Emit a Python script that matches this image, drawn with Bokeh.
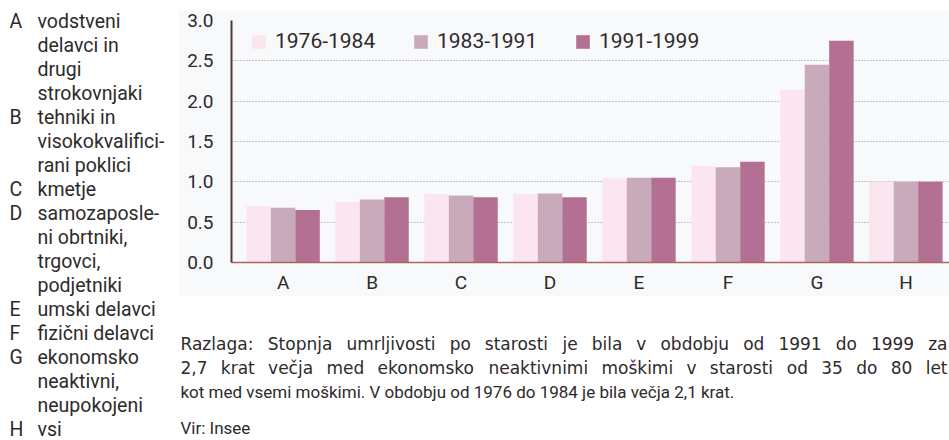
from bokeh.plotting import figure
from bokeh.layouts import row, column
from bokeh.models import (Range1d, FixedTicker, Legend, LegendItem, Spacer,
                          ColumnDataSource, PrintfTickFormatter)
from bokeh.transform import dodge
from bokeh.core.properties import value
from bokeh.embed import file_html
from bokeh.resources import INLINE

# ---------------- data ----------------
categories = ["A", "B", "C", "D", "E", "F", "G", "H"]
series_labels = ["1976-1984", "1983-1991", "1991-1999"]
v_1976_1984 = [0.70, 0.75, 0.85, 0.85, 1.04, 1.20, 2.14, 1.00]
v_1983_1991 = [0.68, 0.78, 0.83, 0.855, 1.05, 1.18, 2.45, 1.00]
v_1991_1999 = [0.65, 0.81, 0.81, 0.81, 1.05, 1.25, 2.75, 1.00]
y_ticks = [0.0, 0.5, 1.0, 1.5, 2.0, 2.5, 3.0]
descriptions = [
    ["vodstveni", "delavci in", "drugi", "strokovnjaki"],
    ["tehniki in", "visokokvalifici-", "rani poklici"],
    ["kmetje"],
    ["samozaposle-", "ni obrtniki,", "trgovci,", "podjetniki"],
    ["umski delavci"],
    ["fizični delavci"],
    ["ekonomsko", "neaktivni,", "neupokojeni"],
    ["vsi"],
]
caption_lines = [
    "Razlaga: Stopnja umrljivosti po starosti je bila v obdobju od 1991 do 1999 za",
    "2,7 krat večja med ekonomsko neaktivnimi moškimi v starosti od 35 do 80 let",
    "kot med vsemi moškimi. V obdobju od 1976 do 1984 je bila večja 2,1 krat.",
]
source_note = "Vir: Insee"

# ---------------- style / layout ----------------
colors = ["#fbe5ee", "#c9aabb", "#b47093"]
FONT = "Roboto"
WIDE_FONT = "DejaVu Sans"      # the justified caption lines are set wider in the original
TXT = "#2e2a2b"
BG = "#f8f9fb"
W, H = 949, 440
KEY_W = 178
RW = W - KEY_W
TOP_GAP = 10
SPLIT = 296                 # height of the upper block (key top + chart)
CH_H = SPLIT - TOP_GAP
BOT_H = H - SPLIT
CAP_SIZE = 17
KEY_SIZE = 19.5
JUSTIFY = [True, True, False]   # first two caption lines are justified to the full width

# approximate DejaVu Sans advance widths (em), used only to justify caption words
_ADV = {"a": .613, "b": .635, "c": .550, "d": .635, "e": .615, "f": .352, "g": .635,
        "h": .634, "i": .278, "j": .278, "k": .579, "l": .278, "m": .974, "n": .634,
        "o": .612, "p": .635, "r": .411, "s": .521, "t": .392, "u": .634, "v": .592,
        "z": .525, "č": .550, "š": .521, ",": .318, ".": .318, ":": .337, "R": .695,
        "S": .635}


def word_w(wd, size):
    return sum(_ADV.get(ch, .636) for ch in wd) * size


def text_fig(w, h):
    f = figure(width=w, height=h, x_range=Range1d(0, w), y_range=Range1d(h, 0),
               x_axis_type=None, y_axis_type=None, output_backend="svg",
               toolbar_location=None, min_border=0)
    f.outline_line_color = None
    f.background_fill_color = "white"
    f.border_fill_color = "white"
    return f


# key rows (page y positions)
rows = []
for c, d in zip(categories, descriptions):
    for j, line in enumerate(d):
        rows.append((c if j == 0 else "", line))
KEY_Y0, KEY_DY = 21, 24
row_y = [KEY_Y0 + i * KEY_DY for i in range(len(rows))]
top_rows = [(r, y) for r, y in zip(rows, row_y) if y < SPLIT]
bot_rows = [(r, y - SPLIT) for r, y in zip(rows, row_y) if y >= SPLIT]


def draw_key(f, items):
    ys = [y for _, y in items]
    f.text(x=[9] * len(items), y=ys, text=[r[0] for r, _ in items], text_baseline="middle",
           text_font=value(FONT), text_font_size=f"{KEY_SIZE}px", text_color=TXT)
    f.text(x=[37] * len(items), y=ys, text=[r[1] for r, _ in items], text_baseline="middle",
           text_font=value(FONT), text_font_size=f"{KEY_SIZE}px", text_color=TXT)


key_top = text_fig(KEY_W, SPLIT)
draw_key(key_top, top_rows)

# ---------------- chart ----------------
x_idx = list(range(len(categories)))
src = ColumnDataSource(dict(x=x_idx, s0=v_1976_1984, s1=v_1983_1991, s2=v_1991_1999))

p = figure(width=RW, height=CH_H, x_range=Range1d(-0.58, 7.49), y_range=Range1d(0, 3.0),
           output_backend="svg", toolbar_location=None,
           min_border_left=53, min_border_right=0, min_border_top=10,
           min_border_bottom=SPLIT - 264)
p.outline_line_color = None
p.background_fill_color = BG
p.border_fill_color = BG

bw = 0.275
renderers = []
for i, (col, c) in enumerate(zip(["s0", "s1", "s2"], colors)):
    r = p.vbar(x=dodge("x", (i - 1) * bw, range=p.x_range), top=col, width=bw,
               source=src, fill_color=c, line_color=None)
    renderers.append(r)

p.xaxis.ticker = FixedTicker(ticks=x_idx)
p.xaxis.major_label_overrides = {i: c for i, c in enumerate(categories)}
p.yaxis.ticker = FixedTicker(ticks=y_ticks)
p.yaxis.formatter = PrintfTickFormatter(format="%.1f")
for ax in (p.xaxis[0], p.yaxis[0]):
    ax.major_tick_line_color = None
    ax.minor_tick_line_color = None
    ax.major_tick_out = 0
    ax.major_tick_in = 0
    ax.major_label_text_font = FONT
    ax.major_label_text_font_size = "19px"
    ax.major_label_text_color = TXT
p.yaxis.axis_line_color = "#4b3b3c"
p.yaxis.axis_line_width = 2
p.yaxis.major_label_standoff = 18
p.xaxis.axis_line_color = "#a8675e"
p.xaxis.axis_line_width = 1.5
p.xaxis.major_label_standoff = 8

p.xgrid.visible = False
p.ygrid.grid_line_color = "#8c8c8c"
p.ygrid.grid_line_dash = "1 2"
p.ygrid.grid_line_width = 1

legend = Legend(items=[LegendItem(label=l, renderers=[r]) for l, r in zip(series_labels, renderers)],
                orientation="horizontal", location=(19, 209),
                border_line_color=None, background_fill_alpha=0, padding=0, margin=0,
                glyph_width=17, glyph_height=17, label_height=17, label_width=124,
                label_standoff=8, spacing=13,
                label_text_font=FONT, label_text_font_size="21px", label_text_color=TXT)
p.add_layout(legend)

# ---------------- bottom block: rest of key + caption ----------------
bot = text_fig(W, BOT_H)
draw_key(bot, bot_rows)
CAP_X, CAP_RIGHT, CAP_Y0, CAP_DY = 180, 947, 343 - SPLIT, 24
jx, jy, jt = [], [], []
px_, py_, pt_ = [], [], []
for i, (line, just) in enumerate(zip(caption_lines, JUSTIFY)):
    y = CAP_Y0 + i * CAP_DY
    if not just:
        px_.append(CAP_X); py_.append(y); pt_.append(line)
        continue
    words = line.split(" ")
    widths = [word_w(wd, CAP_SIZE) for wd in words]
    gap = (CAP_RIGHT - CAP_X - sum(widths)) / (len(words) - 1)
    x = CAP_X
    for wd, w_ in zip(words, widths):
        jx.append(x); jy.append(y); jt.append(wd)
        x += w_ + gap
bot.text(x=jx, y=jy, text=jt, text_baseline="middle",
         text_font=value(WIDE_FONT), text_font_size=f"{CAP_SIZE}px", text_color=TXT)
bot.text(x=px_, y=py_, text=pt_, text_baseline="middle",
         text_font=value(FONT), text_font_size=f"{CAP_SIZE}px", text_color=TXT)
bot.text(x=[CAP_X], y=[427 - SPLIT], text=[source_note], text_baseline="middle",
         text_font=value(FONT), text_font_size=f"{CAP_SIZE}px", text_color=TXT)

layout = column(row(key_top, column(Spacer(width=RW, height=TOP_GAP), p)), bot)
open("out.html", "w").write(file_html(layout, INLINE))
